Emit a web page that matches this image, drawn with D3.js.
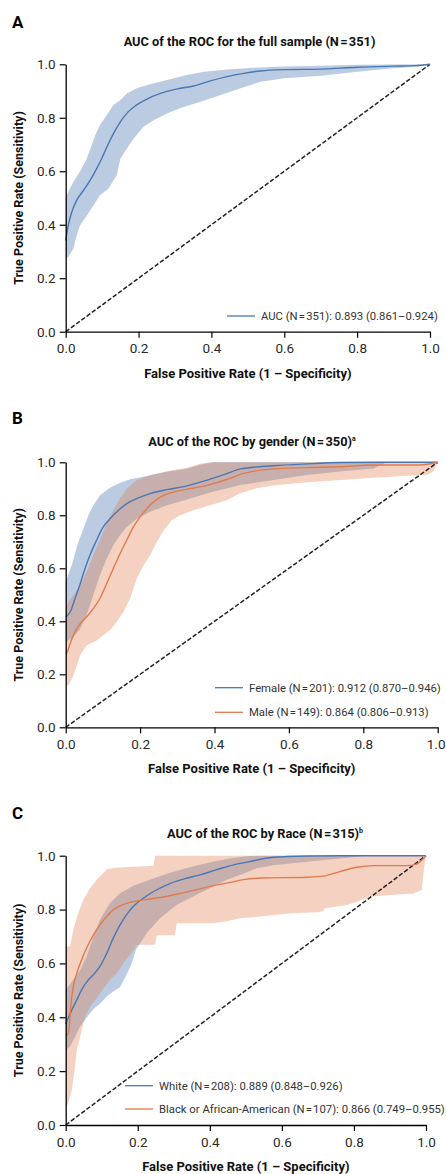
<!DOCTYPE html>
<html>
<head>
<meta charset="utf-8">
<script src="https://cdn.jsdelivr.net/npm/d3@7"></script>
<style>
  body { margin: 0; background: #fff; }
  text { font-family: Roboto, "Open Sans", sans-serif; }
</style>
</head>
<body>
<div id="chart"></div>
<script>
// ---- data (FPR, TPR) ----
const fprTicks = [0, 0.2, 0.4, 0.6, 0.8, 1.0];
const tprTicks = [0, 0.2, 0.4, 0.6, 0.8, 1.0];
const chanceLine = [[0, 0], [1, 1]];

// A: full sample
const fullMean = [[0,0.341],[0.007,0.398],[0.017,0.448],[0.030,0.491],[0.049,0.529],[0.067,0.566],[0.085,0.61],[0.099,0.648],[0.113,0.691],[0.131,0.741],[0.150,0.785],[0.172,0.823],[0.195,0.848],[0.223,0.870],[0.260,0.891],[0.306,0.908],[0.351,0.919],[0.397,0.938],[0.443,0.954],[0.489,0.966],[0.535,0.975],[0.6,0.980],[0.7,0.982],[0.8,0.989],[0.9,0.993],[0.96,0.995],[1,1]];
const fullUpper = [[0,0.504],[0.021,0.56],[0.039,0.598],[0.058,0.648],[0.072,0.70],[0.081,0.735],[0.094,0.773],[0.113,0.81],[0.131,0.848],[0.150,0.866],[0.168,0.891],[0.195,0.91],[0.232,0.925],[0.278,0.941],[0.333,0.96],[0.379,0.972],[0.443,0.981],[0.517,0.987],[0.6,0.992],[0.7,0.995],[0.8,0.998],[0.9,0.999],[1,1]];
const fullLower = [[0,0.272],[0.007,0.279],[0.021,0.31],[0.030,0.36],[0.039,0.397],[0.058,0.435],[0.076,0.472],[0.094,0.51],[0.117,0.535],[0.140,0.585],[0.150,0.647],[0.168,0.685],[0.186,0.722],[0.214,0.766],[0.241,0.791],[0.278,0.816],[0.315,0.837],[0.370,0.86],[0.425,0.885],[0.480,0.91],[0.535,0.935],[0.6,0.948],[0.7,0.957],[0.8,0.972],[0.9,0.985],[0.963,0.991],[1,1]];

// B: female / male
const femaleMean = [[0,0.416],[0.012,0.435],[0.025,0.486],[0.039,0.542],[0.052,0.599],[0.065,0.649],[0.083,0.706],[0.101,0.756],[0.119,0.787],[0.142,0.819],[0.164,0.844],[0.191,0.863],[0.227,0.882],[0.272,0.897],[0.326,0.911],[0.379,0.932],[0.433,0.957],[0.469,0.975],[0.558,0.987],[0.648,0.994],[0.738,0.999],[0.827,1],[1,1]];
const femaleUpper = [[0,0.548],[0.016,0.611],[0.034,0.699],[0.048,0.75],[0.061,0.8],[0.074,0.838],[0.092,0.875],[0.115,0.90],[0.142,0.92],[0.173,0.936],[0.218,0.948],[0.272,0.964],[0.326,0.976],[0.361,0.991],[0.397,1],[1,1]];
const femaleLower = [[0,0.322],[0.021,0.341],[0.039,0.372],[0.056,0.423],[0.074,0.498],[0.092,0.574],[0.110,0.636],[0.128,0.687],[0.146,0.725],[0.164,0.756],[0.191,0.787],[0.227,0.813],[0.272,0.838],[0.326,0.86],[0.388,0.886],[0.469,0.914],[0.558,0.933],[0.648,0.952],[0.738,0.965],[0.827,0.977],[0.863,1],[1,1]];
const maleMean = [[0,0.278],[0.004,0.284],[0.012,0.316],[0.025,0.36],[0.039,0.391],[0.056,0.416],[0.074,0.448],[0.092,0.486],[0.110,0.542],[0.128,0.599],[0.146,0.655],[0.164,0.706],[0.182,0.756],[0.2,0.794],[0.218,0.825],[0.236,0.85],[0.263,0.875],[0.299,0.891],[0.343,0.903],[0.388,0.916],[0.433,0.935],[0.478,0.958],[0.558,0.975],[0.648,0.98],[0.738,0.983],[0.827,0.99],[0.952,0.99],[1,1]];
const maleUpper = [[0,0.46],[0.021,0.498],[0.039,0.536],[0.056,0.586],[0.074,0.649],[0.092,0.706],[0.110,0.769],[0.128,0.819],[0.146,0.863],[0.164,0.90],[0.191,0.932],[0.227,0.951],[0.272,0.966],[0.326,0.979],[0.361,0.995],[0.388,1],[1,1]];
const maleLower = [[0,0.158],[0.007,0.158],[0.021,0.196],[0.039,0.272],[0.056,0.309],[0.083,0.328],[0.101,0.347],[0.119,0.366],[0.137,0.397],[0.155,0.435],[0.173,0.486],[0.191,0.561],[0.209,0.611],[0.227,0.649],[0.245,0.699],[0.263,0.743],[0.285,0.781],[0.308,0.80],[0.343,0.819],[0.388,0.838],[0.433,0.857],[0.469,0.883],[0.513,0.902],[0.558,0.912],[0.648,0.925],[0.738,0.933],[0.827,0.942],[0.917,0.949],[0.97,0.952],[0.988,0.965],[1,1]];

// C: white / black or african-american
const whiteMean = [[0,0.375],[0.007,0.397],[0.017,0.427],[0.031,0.465],[0.044,0.502],[0.063,0.539],[0.077,0.558],[0.095,0.589],[0.114,0.638],[0.132,0.694],[0.151,0.743],[0.169,0.781],[0.188,0.812],[0.216,0.843],[0.244,0.867],[0.281,0.892],[0.327,0.913],[0.373,0.929],[0.419,0.948],[0.466,0.966],[0.503,0.976],[0.576,0.994],[0.669,0.999],[0.761,1],[1,1]];
const whiteUpper = [[0,0.502],[0.021,0.539],[0.040,0.576],[0.058,0.626],[0.077,0.7],[0.095,0.762],[0.123,0.824],[0.151,0.861],[0.188,0.888],[0.234,0.911],[0.281,0.933],[0.336,0.954],[0.392,0.973],[0.447,0.988],[0.503,0.998],[0.54,1],[1,1]];
const whiteLower = [[0,0.279],[0.012,0.291],[0.026,0.328],[0.040,0.366],[0.058,0.398],[0.077,0.431],[0.095,0.45],[0.114,0.477],[0.132,0.496],[0.151,0.512],[0.169,0.558],[0.183,0.601],[0.195,0.651],[0.225,0.713],[0.262,0.768],[0.308,0.818],[0.355,0.849],[0.401,0.88],[0.447,0.911],[0.484,0.928],[0.53,0.953],[0.576,0.965],[0.669,0.978],[0.761,0.99],[0.835,1],[1,1]];
const blackMean = [[0,0.335],[0.005,0.335],[0.009,0.353],[0.014,0.44],[0.021,0.514],[0.031,0.564],[0.044,0.613],[0.058,0.657],[0.077,0.706],[0.095,0.743],[0.114,0.774],[0.132,0.799],[0.151,0.814],[0.179,0.827],[0.216,0.836],[0.262,0.845],[0.308,0.857],[0.355,0.871],[0.401,0.886],[0.447,0.898],[0.494,0.911],[0.54,0.917],[0.669,0.92],[0.715,0.924],[0.761,0.941],[0.808,0.957],[0.854,0.963],[0.946,0.963],[0.974,0.969],[0.993,0.99],[1,1]];
const blackUpper = [[0,0.663],[0.012,0.663],[0.021,0.725],[0.035,0.787],[0.049,0.836],[0.068,0.88],[0.086,0.911],[0.105,0.936],[0.114,0.95],[0.132,0.954],[0.169,0.958],[0.206,0.96],[0.244,0.963],[0.248,1],[1,1]];
const blackLower = [[0,0.068],[0.007,0.08],[0.017,0.13],[0.026,0.217],[0.031,0.279],[0.040,0.328],[0.054,0.403],[0.068,0.44],[0.086,0.471],[0.105,0.508],[0.123,0.539],[0.142,0.564],[0.160,0.601],[0.179,0.632],[0.197,0.669],[0.248,0.669],[0.253,0.705],[0.303,0.705],[0.308,0.749],[0.41,0.749],[0.447,0.757],[0.484,0.768],[0.55,0.775],[0.623,0.786],[0.7,0.79],[0.715,0.795],[0.72,0.805],[0.78,0.817],[0.808,0.829],[0.845,0.848],[0.9,0.854],[0.965,0.86],[0.988,0.873],[0.995,0.959],[1,1]];

const legendA = ['AUC (N\u200a=\u200a351): 0.893 (0.861\u20130.924)'];
const legendB = ['Female (N\u200a=\u200a201): 0.912 (0.870\u20130.946)', 'Male (N\u200a=\u200a149): 0.864 (0.806\u20130.913)'];
const legendC = ['White (N\u200a=\u200a208): 0.889 (0.848\u20130.926)', 'Black or African-American (N\u200a=\u200a107): 0.866 (0.749\u20130.955)'];

// ---- layout ----
const W = 446, H = 1174;
const BLUE = '#4a77b4';
const ORANGE = '#e07b4e';

const panels = [
  { letter: 'A', letterY: 28, title: 'AUC of the ROC for the full sample (N\u200a=\u200a351)', sup: '',
    titleX: 249.5, titleY: 46, box: [65.7, 64.3, 430, 331.7],
    legend: { x: 227, y: 316, gap: 0, labels: legendA },
    series: [{ mean: fullMean, hi: fullUpper, lo: fullLower, color: BLUE, alpha: 0.38 }] },
  { letter: 'B', letterY: 424, title: 'AUC of the ROC by gender (N\u200a=\u200a350)', sup: 'a',
    titleX: 252, titleY: 446, box: [65.7, 462.3, 437.7, 727.3],
    legend: { x: 215, y: 687.7, gap: 24.6, labels: legendB },
    series: [{ mean: femaleMean, hi: femaleUpper, lo: femaleLower, color: BLUE, alpha: 0.38 },
             { mean: maleMean, hi: maleUpper, lo: maleLower, color: ORANGE, alpha: 0.35 }] },
  { letter: 'C', letterY: 819, title: 'AUC of the ROC by Race (N\u200a=\u200a315)', sup: 'b',
    titleX: 265, titleY: 838, box: [65.7, 855.7, 426, 1125],
    legend: { x: 125, y: 1085.7, gap: 23.3, labels: legendC },
    series: [{ mean: whiteMean, hi: whiteUpper, lo: whiteLower, color: BLUE, alpha: 0.38 },
             { mean: blackMean, hi: blackUpper, lo: blackLower, color: ORANGE, alpha: 0.35 }] }
];

const svg = d3.select('#chart').append('svg')
  .attr('width', W)
  .attr('height', H);

panels.forEach(function (p) {
  const [l, t, r, b] = p.box;
  const x = d3.scaleLinear().domain([0, 1]).range([l, r]);
  const y = d3.scaleLinear().domain([0, 1]).range([b, t]);
  const g = svg.append('g');

  const straight = d3.line().x(d => x(d[0])).y(d => y(d[1]));
  const smooth = d3.line().x(d => x(d[0])).y(d => y(d[1])).curve(d3.curveMonotoneX);

  // confidence bands
  p.series.forEach(function (s) {
    g.append('path')
      .attr('d', straight(s.hi.concat(s.lo.slice().reverse())) + 'Z')
      .attr('fill', s.color)
      .attr('fill-opacity', s.alpha)
      .attr('stroke', 'none');
  });

  // chance diagonal
  g.append('path')
    .attr('d', straight(chanceLine))
    .attr('fill', 'none')
    .attr('stroke', '#222')
    .attr('stroke-width', 1.5)
    .attr('stroke-dasharray', '4.5,2');

  // mean ROC curves
  p.series.forEach(function (s) {
    g.append('path')
      .attr('d', smooth(s.mean))
      .attr('fill', 'none')
      .attr('stroke', s.color)
      .attr('stroke-width', 1.4);
  });

  // axes
  const xAxis = g.append('g')
    .attr('transform', 'translate(0,' + b + ')')
    .call(d3.axisBottom(x).tickValues(fprTicks).tickFormat(d3.format('.1f'))
      .tickSize(6).tickSizeOuter(0).tickPadding(6));
  const yAxis = g.append('g')
    .attr('transform', 'translate(' + l + ',0)')
    .call(d3.axisLeft(y).tickValues(tprTicks).tickFormat(d3.format('.1f'))
      .tickSize(6).tickSizeOuter(0).tickPadding(4));
  [xAxis, yAxis].forEach(function (ax) {
    ax.select('.domain').attr('stroke', '#000').attr('stroke-width', 1.3);
    ax.selectAll('.tick line').attr('stroke', '#000').attr('stroke-width', 1.2);
    ax.selectAll('.tick text')
      .attr('fill', '#2a2a2a')
      .style('font-size', '13.5px')
      .style('font-family', 'Roboto, sans-serif');
  });
  // keep the last x tick label inside the page
  xAxis.selectAll('.tick text').each(function () {
    const over = r + this.getComputedTextLength() / 2 - (W - 1);
    const v = d3.select(this.parentNode).datum();
    if (v === 1 && over > 0) d3.select(this).attr('dx', -over);
  });

  // axis titles
  g.append('text')
    .attr('x', (l + r) / 2)
    .attr('y', b + 46)
    .attr('text-anchor', 'middle')
    .style('font-size', '13px')
    .style('font-weight', 700)
    .attr('fill', '#111')
    .text('False Positive Rate (1 \u2013 Specificity)');

  g.append('text')
    .attr('transform', 'translate(23,' + ((t + b) / 2) + ') rotate(-90)')
    .attr('text-anchor', 'middle')
    .style('font-size', '12.5px')
    .style('font-weight', 700)
    .attr('fill', '#111')
    .text('True Positive Rate (Sensitivity)');

  // panel title
  const title = g.append('text')
    .attr('x', p.titleX)
    .attr('y', p.titleY)
    .attr('text-anchor', 'middle')
    .style('font-size', '12.8px')
    .style('font-weight', 700)
    .attr('fill', '#111')
    .text(p.title);
  if (p.sup) {
    title.append('tspan')
      .attr('dy', -5)
      .style('font-size', '7px')
      .text(p.sup);
  }

  // panel letter
  g.append('text')
    .attr('x', 12)
    .attr('y', p.letterY)
    .style('font-size', '17px')
    .style('font-weight', 700)
    .attr('fill', '#000')
    .text(p.letter);

  // legend
  p.legend.labels.forEach(function (lab, i) {
    const ly = p.legend.y + i * p.legend.gap;
    g.append('line')
      .attr('x1', p.legend.x).attr('x2', p.legend.x + 28)
      .attr('y1', ly).attr('y2', ly)
      .attr('stroke', p.series[i].color)
      .attr('stroke-width', 1.3);
    g.append('text')
      .attr('x', p.legend.x + 34)
      .attr('y', ly + 4)
      .style('font-size', '11.3px')
      .attr('fill', '#333')
      .text(lab);
  });
});
</script>
</body>
</html>
